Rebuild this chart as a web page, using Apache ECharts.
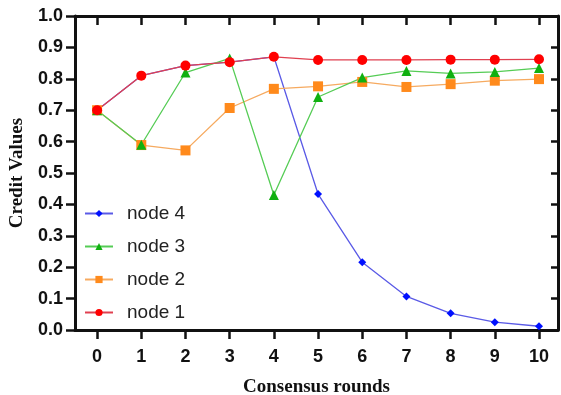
<!DOCTYPE html>
<html>
<head>
<meta charset="utf-8">
<script src="https://cdn.jsdelivr.net/npm/echarts@6/dist/echarts.min.js"></script>
<style>html,body{margin:0;padding:0;background:#fff}#c{width:561px;height:395px}</style>
</head>
<body>
<div id="c"></div>
<script>
const rounds = [0,1,2,3,4,5,6,7,8,9,10];
const node1 = [0.70,0.81,0.842,0.853,0.87,0.86,0.86,0.86,0.861,0.861,0.862];
const node2 = [0.70,0.589,0.572,0.707,0.768,0.776,0.79,0.774,0.783,0.794,0.799];
const node3 = [0.70,0.59,0.82,0.865,0.43,0.742,0.804,0.825,0.817,0.822,0.834];
const node4 = [0.70,0.81,0.842,0.853,0.87,0.433,0.216,0.107,0.053,0.025,0.012];

const pairs = a => rounds.map((r,i)=>[r,a[i]]);
const chart = echarts.init(document.getElementById('c'), null, {renderer:'canvas'});
const axisCol = '#111';
const mk = (name, data, color, lineColor, symbol, size) => ({
  name, type:'line', data: pairs(data), symbol, symbolSize:size,
  itemStyle:{color:color}, lineStyle:{color:lineColor, width:1.3},
  animation:false
});
chart.setOption({
  animation:false,
  grid:{left:75,right:3,top:16,bottom:65,containLabel:false,outerBoundsMode:'none'},
  legend:{
    data:['node 4','node 3','node 2','node 1'],
    orient:'vertical', left:79, top:199, itemWidth:28, itemHeight:9, itemGap:14,
    textStyle:{fontFamily:'Liberation Sans, Arial', fontSize:19, color:'#222', padding:[0,0,0,9]}
  },
  xAxis:[{
    type:'value', min:-0.5, max:10.43, position:'bottom',
    name:'Consensus rounds', nameLocation:'middle', nameGap:48,
    nameTextStyle:{fontFamily:'Liberation Serif, Times New Roman', fontWeight:'bold', fontSize:19, color:'#111'},
    axisLine:{onZero:false, lineStyle:{color:axisCol,width:3}},
    axisTick:{show:true, inside:false, length:9, lineStyle:{color:axisCol,width:2.5}, customValues:rounds},
    axisLabel:{customValues:rounds, fontFamily:'Liberation Sans, Arial', fontWeight:'bold', fontSize:18, color:'#111', margin:18},
    splitLine:{show:false}
  },{
    type:'value', min:-0.5, max:10.43, position:'top',
    axisLine:{onZero:false, lineStyle:{color:axisCol,width:3}},
    axisTick:{show:true, inside:true, length:9, lineStyle:{color:axisCol,width:2.5}, customValues:rounds},
    axisLabel:{show:false}, splitLine:{show:false}
  }],
  yAxis:[{
    type:'value', min:0, max:1, interval:0.1, position:'left',
    name:'Credit Values', nameLocation:'middle', nameGap:44, nameRotate:90,
    nameTextStyle:{fontFamily:'Liberation Serif, Times New Roman', fontWeight:'bold', fontSize:19, color:'#111'},
    axisLine:{show:true, onZero:false, lineStyle:{color:axisCol,width:3}},
    axisTick:{show:true, inside:false, length:9, lineStyle:{color:axisCol,width:2.5}},
    axisLabel:{fontFamily:'Liberation Sans, Arial', fontWeight:'bold', fontSize:18, color:'#111', margin:12,
      formatter:v=>v.toFixed(1)},
    splitLine:{show:false}
  },{
    type:'value', min:0, max:1, interval:0.1, position:'right',
    axisLine:{show:true, onZero:false, lineStyle:{color:axisCol,width:3}},
    axisTick:{show:true, inside:true, length:7, lineStyle:{color:axisCol,width:2.5}},
    axisLabel:{show:false}, splitLine:{show:false}
  }],
  series:[
    mk('node 4', node4, '#0010ff', '#5a5ae6', 'diamond', 8),
    mk('node 2', node2, '#ff8a1c', '#f6aa60', 'rect', 10),
    mk('node 3', node3, '#10b010', '#55cc55', 'triangle', 10),
    mk('node 1', node1, '#ff0000', '#e04050', 'circle', 10)
  ]
});
</script>
</body>
</html>
